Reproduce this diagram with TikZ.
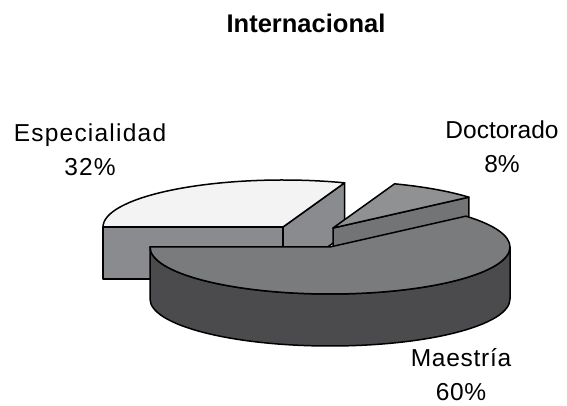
\documentclass[tikz,border=0pt]{standalone}
\usepackage{fontspec}
\setmainfont{Liberation Sans}
\usetikzlibrary{calc}
\definecolor{espcol}{HTML}{F3F3F3}
\definecolor{espside}{HTML}{8A8B8E}
\definecolor{doccol}{HTML}{909193}
\definecolor{docside}{HTML}{737476}
\definecolor{maecol}{HTML}{7A7B7D}
\definecolor{maeside}{HTML}{4B4B4D}
\tikzset{
    sliceface/.style={draw=black, line width=1.5pt, line join=round},
    lbl/.style={font=\fontsize{24.5}{34}\selectfont, align=center},
    pieoval/.style={x radius=180pt, y radius=47pt}
}

\begin{document}
\begin{tikzpicture}[x=1pt, y=1pt]
    \useasboundingbox (0,0) rectangle (567,406);
    \node[font=\fontsize{25.5}{30}\selectfont\bfseries, anchor=base] (title) at (306,373) {Internacional};
    % Especialidad
    \coordinate (ec) at (283,179);
    \filldraw[sliceface, fill=espside] (ec) -- ++(-180,0) -- ++(0,-52) -- ++(180,0) -- cycle;
    \filldraw[sliceface, fill=espside] (ec) -- ($(ec)+(70:180pt and 47pt)$) -- ++(0,-52) -- ($(ec)+(0,-52)$) -- cycle;
    \filldraw[sliceface, fill=espcol] (ec) -- ($(ec)+(70:180pt and 47pt)$) arc[start angle=70, end angle=180, pieoval] -- cycle;
    % Doctorado
    \coordinate (dc) at (333,178);
    \filldraw[sliceface, fill=docside] (dc) -- ($(dc)+(41:180pt and 47pt)$) -- ++(0,-52) -- ($(dc)+(0,-52)$) -- cycle;
    \filldraw[sliceface, fill=doccol] (dc) -- ($(dc)+(41:180pt and 47pt)$) arc[start angle=41, end angle=70, pieoval] -- cycle;
    % Maestria
    \coordinate (mc) at (330,159);
    \filldraw[sliceface, fill=maeside] ($(mc)+(180:180pt and 47pt)$) arc[start angle=180, end angle=360, pieoval] -- ++(0,-52) arc[start angle=360, end angle=180, pieoval] -- cycle;
    \filldraw[sliceface, fill=maecol] (mc) -- ($(mc)+(180:180pt and 47pt)$) arc[start angle=180, end angle=401, pieoval] -- cycle;
    % etiquetas
    \node[lbl, font=\fontsize{24.5}{34}\selectfont\addfontfeature{LetterSpace=5}] (esplab) at (90,256) {Especialidad\\32\%};
    \node[lbl] (doclab) at (502,259) {Doctorado\\8\%};
    \node[lbl, font=\fontsize{24.5}{34}\selectfont\addfontfeature{LetterSpace=3}] (maelab) at (461,31) {Maestría\\60\%};
\end{tikzpicture}
\end{document}
